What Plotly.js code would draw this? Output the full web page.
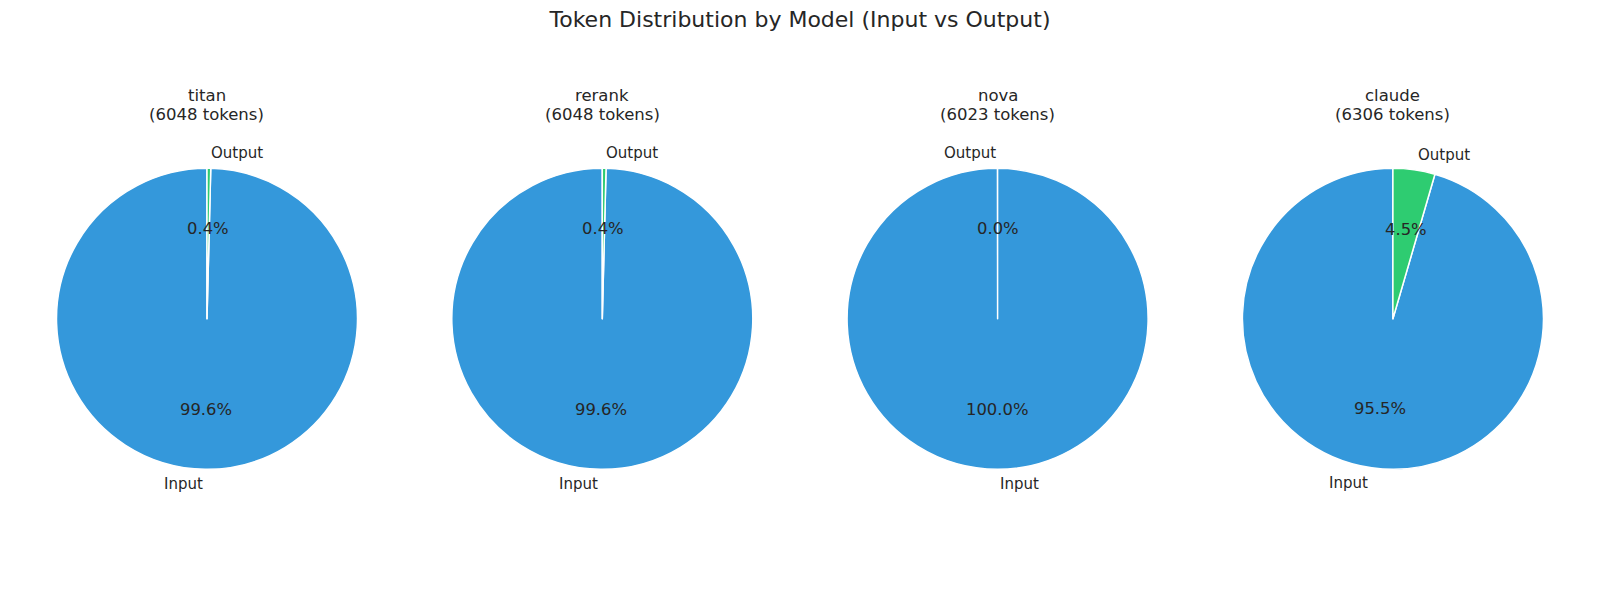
<!DOCTYPE html>
<html>
<head>
<meta charset="utf-8">
<script src="https://cdn.plot.ly/plotly-3.0.1.min.js"></script>
<style>html,body{margin:0;padding:0;background:#fff;}#chart{width:1600px;height:600px;}</style>
</head>
<body>
<div id="chart"></div>
<script>
// ---- data ----
const models = ['titan', 'rerank', 'nova', 'claude'];
const inputTokens = [6024, 6024, 6022, 6022];
const outputTokens = [24, 24, 1, 284];
const sliceOrder = [['Input', 'Output'], ['Input', 'Output'], ['Output', 'Input'], ['Input', 'Output']];
const sliceColors = {Input: '#3498db', Output: '#2ecc71'};

// ---- layout constants ----
const W = 1600, H = 600;
const firstCx = 207, stepX = 395.3, cy = 318.8, R = 150.5;
const textColor = '#262626';
const fam = 'DejaVu Sans, sans-serif';

const px = x => x / W;
const py = y => (H - y) / H;

const traces = [];
const annotations = [];

models.forEach((m, i) => {
  const cx = firstCx + i * stepX;
  const vals = {Input: inputTokens[i], Output: outputTokens[i]};
  const order = sliceOrder[i];
  const values = order.map(l => vals[l]);
  const total = values.reduce((a, b) => a + b, 0);

  // Plotly 'counterclockwise' ends the first slice at `rotation`;
  // shift so the first slice starts at 12 o'clock (matplotlib startangle=90).
  traces.push({
    type: 'pie',
    labels: order,
    values: values,
    sort: false,
    direction: 'counterclockwise',
    rotation: -360 * values[0] / total,
    textinfo: 'none',
    marker: {colors: order.map(l => sliceColors[l]), line: {color: '#ffffff', width: 1.5}},
    domain: {x: [px(cx - R), px(cx + R)], y: [py(cy + R), py(cy - R)]},
    showlegend: false,
    hoverinfo: 'label+value+percent'
  });

  // matplotlib-like label & percentage placement
  let theta1 = 0.25;
  values.forEach((v, k) => {
    const frac = v / total;
    const theta2 = theta1 + frac;
    const thetam = Math.PI * (theta1 + theta2);
    const c = Math.cos(thetam), s = Math.sin(thetam);
    const lx = cx + 1.1 * R * c, ly = cy - 1.1 * R * s;
    annotations.push({
      x: px(lx), y: py(ly), xref: 'paper', yref: 'paper',
      text: order[k], showarrow: false,
      xanchor: (1.1 * c > 0) ? 'left' : 'right', yanchor: 'middle',
      font: {family: fam, size: 15, color: textColor}
    });
    const tx = cx + 0.6 * R * c, ty = cy - 0.6 * R * s;
    annotations.push({
      x: px(tx), y: py(ty), xref: 'paper', yref: 'paper',
      text: (frac * 100).toFixed(1) + '%', showarrow: false,
      xanchor: 'center', yanchor: 'middle',
      font: {family: fam, size: 16.4, color: textColor}
    });
    theta1 = theta2;
  });

  // subplot title (two lines)
  annotations.push({
    x: px(cx), y: py(95.2), xref: 'paper', yref: 'paper',
    text: m, showarrow: false, xanchor: 'center', yanchor: 'middle',
    font: {family: fam, size: 16.5, color: textColor}
  });
  annotations.push({
    x: px(cx), y: py(114.8), xref: 'paper', yref: 'paper',
    text: '(' + total + ' tokens)', showarrow: false, xanchor: 'center', yanchor: 'middle',
    font: {family: fam, size: 16.5, color: textColor}
  });
});

const layout = {
  width: W, height: H,
  margin: {l: 0, r: 0, t: 0, b: 0},
  paper_bgcolor: '#ffffff',
  title: {
    text: 'Token Distribution by Model (Input vs Output)',
    font: {family: fam, size: 22, color: textColor},
    x: 0.5, xanchor: 'center', xref: 'paper',
    y: (H - 12) / H, yanchor: 'top', yref: 'paper'
  },
  annotations: annotations,
  showlegend: false
};

Plotly.newPlot('chart', traces, layout, {displayModeBar: false, responsive: false});
</script>
</body>
</html>
